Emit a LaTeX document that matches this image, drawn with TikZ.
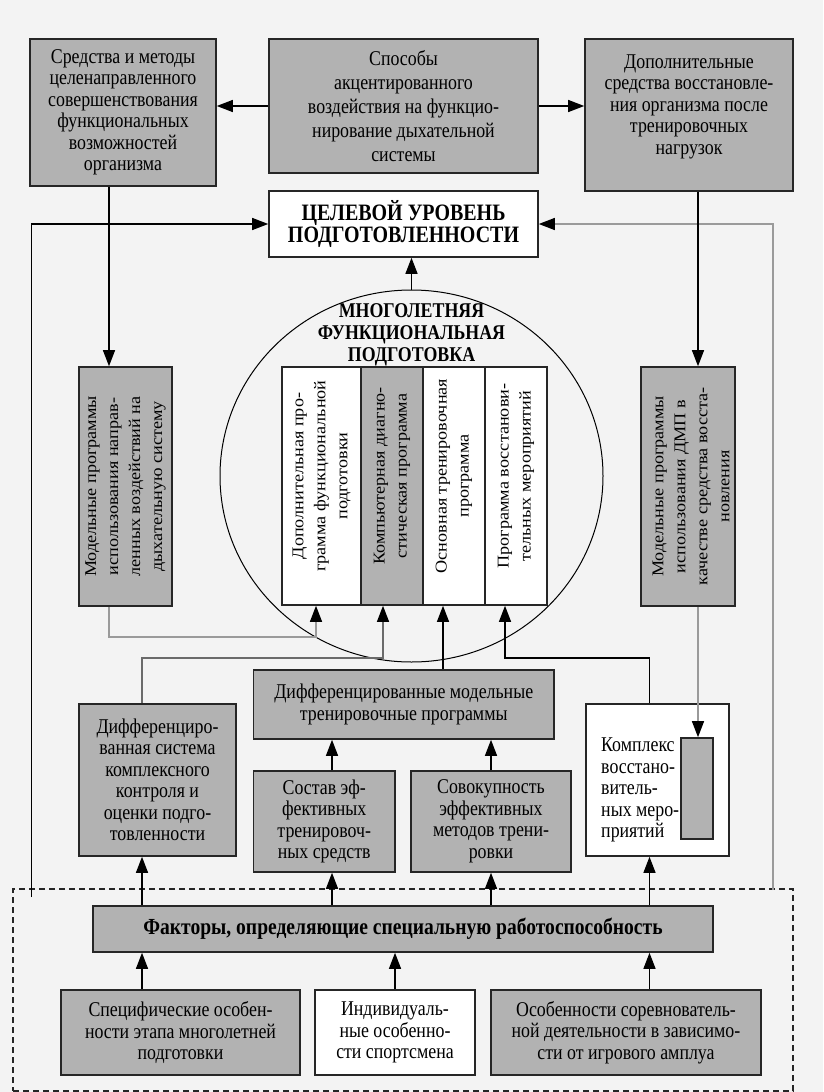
\documentclass[tikz,border=0pt]{standalone}
\usepackage{fontspec}
\setmainfont[FakeStretch=0.85]{Liberation Serif}
\newfontfamily\rotfont[FakeStretch=1.1]{Liberation Serif}
\usetikzlibrary{arrows.meta,shapes.geometric}
\definecolor{bg}{HTML}{F3F3F3}
\definecolor{boxgray}{HTML}{B2B2B2}
\definecolor{edge}{HTML}{262626}
\definecolor{lgray}{HTML}{9A9A9A}
\definecolor{mgray}{HTML}{6A6A6A}
\begin{document}
\begin{tikzpicture}[x=1pt,y=-1pt,
 box/.style={draw=edge,line width=1.6pt,inner sep=0pt,align=center,font=\fontsize{21}{21.5}\selectfont},
 gbox/.style={box,fill=boxgray},
 wbox/.style={box,fill=white},
 rtext/.style={rotate=90,align=center,inner sep=0pt,font=\rotfont\fontsize{16.5}{22}\selectfont},
 tip/.style={-{Triangle[width=12pt,length=16pt,color=black]}},
 ln/.style={line width=1.2pt,draw=black},
 arr/.style={ln,tip},
 garr/.style={line width=1.2pt,draw=lgray,tip},
 marr/.style={line width=1.2pt,draw=mgray,tip}
]
\fill[bg] (0,0) rectangle (823,1092);
\useasboundingbox (0,0) rectangle (823,1092);

% top row
\node[gbox,minimum width=186pt,minimum height=147pt] (tl) at (123,112.5)
 {Средства и методы\\целенаправленного\\совершенствования\\функциональных\\возможностей\\организма};
\node[gbox,minimum width=269pt,minimum height=134pt,font=\fontsize{21}{24}\selectfont] (tm) at (403.5,106)
 {Способы\\акцентированного\\воздействия на функцио-\\нирование дыхательной\\системы};
\node[gbox,minimum width=208pt,minimum height=152pt] (tr) at (689,115)
 {Дополнительные\\средства восстановле-\\ния организма после\\тренировочных\\нагрузок\\[0pt]\mbox{}};

\node[wbox,minimum width=269pt,minimum height=66pt,font=\bfseries\fontsize{23.5}{22}\selectfont] (goal) at (403.5,224)
 {ЦЕЛЕВОЙ УРОВЕНЬ\\ПОДГОТОВЛЕННОСТИ};

% ellipse
\node[draw,line width=1pt,ellipse,minimum width=383pt,minimum height=372pt,inner sep=0pt] (mfp) at (411.5,476) {};
\node[align=center,inner sep=0pt,font=\bfseries\fontsize{21}{22}\selectfont] (mfpt) at (411.5,335)
 {МНОГОЛЕТНЯЯ\\ФУНКЦИОНАЛЬНАЯ\\ПОДГОТОВКА};

% columns
\node[wbox,minimum width=79pt,minimum height=238pt] (c1) at (321.5,486) {};
\node[gbox,minimum width=62pt,minimum height=238pt] (c2) at (392,486) {};
\node[wbox,minimum width=62pt,minimum height=238pt] (c3) at (454,486) {};
\node[wbox,minimum width=62pt,minimum height=238pt] (c4) at (516,486) {};
\node[rtext] (c1t) at ([yshift=10pt]c1) {Дополнительная про-\\грамма функциональной\\подготовки};
\node[rtext] (c2t) at ([yshift=10pt]c2) {Компьютерная диагно-\\стическая программа};
\node[rtext] (c3t) at ([yshift=10pt]c3) {Основная тренировочная\\программа};
\node[rtext] (c4t) at ([yshift=10pt]c4) {Программа восстанови-\\тельных мероприятий};

% side vertical boxes
\node[gbox,minimum width=93pt,minimum height=239pt] (midL) at (125.5,486.5) {};
\node[rtext] (midLt) at (midL) {Модельные программы\\использования направ-\\ленных воздействий на\\дыхательную систему};
\node[gbox,minimum width=94pt,minimum height=239pt] (midR) at (688,486.5) {};
\node[rtext] (midRt) at ([xshift=3pt]midR) {Модельные программы\\использования ДМП в\\качестве средства восста-\\новления};

% lower section
\node[gbox,minimum width=300.5pt,minimum height=69pt] (dprog) at (403.75,704.5)
 {Дифференцированные модельные\\тренировочные программы};
\node[gbox,minimum width=157pt,minimum height=152pt] (dsys) at (157.5,780)
 {Дифференциро-\\ванная система\\комплексного\\контроля и\\оценки подго-\\товленности};
\node[gbox,minimum width=141.5pt,minimum height=101pt] (sostav) at (324.25,821.5)
 {Состав эф-\\фективных\\тренировоч-\\ных средств};
\node[gbox,minimum width=160pt,minimum height=101pt] (sovok) at (491,821.5)
 {Совокупность\\эффективных\\методов трени-\\ровки};
\node[wbox,minimum width=143pt,minimum height=152pt] (kompl) at (657.5,780) {};
\node[gbox,minimum width=32pt,minimum height=101pt] (inner) at (697,788.5) {};
\node[anchor=west,align=left,inner sep=0pt,font=\fontsize{21}{21.5}\selectfont] (komplt) at (601,790)
 {Комплекс\\восстано-\\витель-\\ных меро-\\приятий};

% dashed zone
\node[draw=edge,dashed,dash pattern=on 6pt off 4pt,line width=1.2pt,minimum width=780pt,minimum height=202pt,inner sep=0pt] (zone) at (403,990) {};
\node[gbox,minimum width=620pt,minimum height=46pt,font=\bfseries\fontsize{23}{22}\selectfont] (fact) at (403,929)
 {Факторы, определяющие специальную работоспособность};
\node[gbox,minimum width=239pt,minimum height=85pt] (botL) at (180.5,1032.5)
 {Специфические особен-\\ности этапа многолетней\\подготовки};
\node[wbox,minimum width=160pt,minimum height=85pt] (botM) at (395,1032.5)
 {Индивидуаль-\\ные особенно-\\сти спортсмена};
\node[gbox,minimum width=270pt,minimum height=85pt] (botR) at (626,1032.5)
 {Особенности соревнователь-\\ной деятельности в зависимо-\\сти от игрового амплуа};

% helper coordinates
\coordinate (Lb) at (31.5,897);
\coordinate (Rb) at (773,890);
\coordinate (xL) at (109,0);
\coordinate (xR) at (698,0);
\coordinate (x1) at (316,0);
\coordinate (x2) at (383,0);
\coordinate (x3) at (443,0);
\coordinate (x4) at (505,0);
\coordinate (xA) at (142,0);
\coordinate (xB) at (332,0);
\coordinate (xC) at (491,0);
\coordinate (xD) at (649.5,0);
\coordinate (xM) at (395,0);
\coordinate (yg) at (0,637);
\coordinate (yh) at (0,658);

% connectors
\draw[arr] (tm.west) -- (tm.west -| tl.east);
\draw[arr] (tm.east) -- (tm.east -| tr.west);
\draw[arr] (Lb) |- (goal.west);
\draw[garr] (Rb) |- (goal.east);
\draw[arr] (mfp.north) -- (mfp.north |- goal.south);
\draw[arr] (tl.south -| xL) -- (midL.north -| xL);
\draw[arr] (tr.south -| xR) -- (midR.north -| xR);
\draw[garr] (midL.south -| xL) -- (xL |- yg) -| (c1.south -| x1);
\draw[marr] (dsys.north -| xA) -- (xA |- yh) -| (c2.south -| x2);
\draw[arr] (dprog.north -| x3) -- (c3.south -| x3);
\draw[arr] (kompl.north -| xD) -- (xD |- yh) -| (c4.south -| x4);
\draw[garr] (midR.south -| xR) -- (inner.north -| xR);
\draw[arr] (sostav.north -| xB) -- (dprog.south -| xB);
\draw[arr] (sovok.north -| xC) -- (dprog.south -| xC);
\draw[arr] (fact.north -| xA) -- (dsys.south -| xA);
\draw[arr] (fact.north -| xB) -- (sostav.south -| xB);
\draw[arr] (fact.north -| xC) -- (sovok.south -| xC);
\draw[arr] (fact.north -| xD) -- (kompl.south -| xD);
\draw[arr] (botL.north -| xA) -- (fact.south -| xA);
\draw[arr] (botM.north -| xM) -- (fact.south -| xM);
\draw[arr] (botR.north -| xD) -- (fact.south -| xD);
\end{tikzpicture}
\end{document}
